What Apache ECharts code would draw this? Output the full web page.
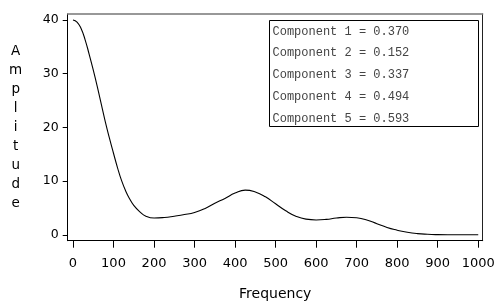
<!DOCTYPE html>
<html>
<head>
<meta charset="utf-8">
<script src="https://cdn.jsdelivr.net/npm/echarts@6/dist/echarts.min.js"></script>
<style>
  html, body { margin: 0; padding: 0; background: #fff; }
  #chart { width: 496px; height: 301px; }
</style>
</head>
<body>
<div id="chart"></div>
<script>
// 曲线数据
const frequency = [0, 10, 20, 30, 40, 50, 60, 70, 80, 90, 100, 110, 120, 130, 140, 150, 165, 180,
  200, 225, 250, 275, 300, 325, 350, 375, 400, 425, 450, 475, 500, 525, 550, 575, 600,
  625, 650, 675, 700, 725, 750, 775, 800, 825, 850, 875, 900, 925, 950, 975, 1000];
const amplitude = [40.0, 39.6, 38.4, 36.3, 33.6, 30.7, 27.6, 24.3, 21.0, 18.0, 15.2, 12.5, 10.1, 8.2, 6.7, 5.5, 4.3, 3.5,
  3.15, 3.25, 3.5, 3.8, 4.2, 4.9, 5.9, 6.8, 7.8, 8.35, 8.0, 7.1, 5.8, 4.5, 3.5, 2.95, 2.8,
  2.9, 3.15, 3.3, 3.2, 2.8, 2.1, 1.4, 0.9, 0.5, 0.25, 0.13, 0.07, 0.05, 0.05, 0.05, 0.05];

const xTicks = [0, 100, 200, 300, 400, 500, 600, 700, 800, 900, 1000];
const yTicks = [0, 10, 20, 30, 40];

const componentNames = ['Component 1', 'Component 2', 'Component 3', 'Component 4', 'Component 5'];
const componentValues = ['0.370', '0.152', '0.337', '0.494', '0.593'];

const chart = echarts.init(document.getElementById('chart'));

// 图例框里的文字
const boxTexts = componentNames.map((name, i) => ({
  type: 'text',
  left: 272.5,
  top: 25.5 + i * 21.8,
  style: {
    text: name + ' = ' + componentValues[i],
    font: '12px "Liberation Mono"',
    fill: '#444'
  },
  z: 10
}));

chart.setOption({
  animation: false,
  grid: { left: 67.7, right: 13.3, top: 14, bottom: 60.3, outerBoundsMode: 'none', containLabel: false },
  xAxis: [{
    type: 'value',
    min: -13,
    max: 1011,
    name: 'Frequency',
    nameLocation: 'middle',
    nameGap: 47,
    nameTextStyle: { fontFamily: 'DejaVu Sans', fontSize: 14, color: '#000' },
    axisLine: { show: true, onZero: false, lineStyle: { color: '#000', width: 1 } },
    axisTick: { show: true, length: 7, customValues: xTicks, lineStyle: { color: '#000' } },
    axisLabel: {
      margin: 16, customValues: xTicks,
      fontFamily: 'DejaVu Sans', fontSize: 13, color: '#000',
      formatter: v => String(v)
    },
    splitLine: { show: false }
  }, {
    type: 'value',
    position: 'top',
    min: -13,
    max: 1011,
    axisLine: { show: true, onZero: false, lineStyle: { color: '#777', width: 1.5 } },
    axisTick: { show: false },
    axisLabel: { show: false },
    splitLine: { show: false }
  }],
  yAxis: [{
    type: 'value',
    min: -1.06,
    max: 41.1,
    name: 'A\nm\np\nl\ni\nt\nu\nd\ne',
    nameLocation: 'middle',
    nameRotate: 0,
    nameGap: 52,
    nameTextStyle: {
      fontFamily: 'DejaVu Sans', fontSize: 13.5, color: '#000', lineHeight: 19,
      align: 'center', verticalAlign: 'middle', padding: [8, 0, 0, 0]
    },
    axisLine: { show: true, onZero: false, lineStyle: { color: '#000', width: 1 } },
    axisTick: { show: true, length: 5, customValues: yTicks, lineStyle: { color: '#000' } },
    axisLabel: {
      margin: 9, customValues: yTicks,
      fontFamily: 'DejaVu Sans', fontSize: 12.5, color: '#000'
    },
    splitLine: { show: false }
  }, {
    type: 'value',
    position: 'right',
    min: -1.06,
    max: 41.1,
    axisLine: { show: true, onZero: false, lineStyle: { color: '#222', width: 1 } },
    axisTick: { show: false },
    axisLabel: { show: false },
    splitLine: { show: false }
  }],
  series: [{
    type: 'line',
    data: frequency.map((f, i) => [f, amplitude[i]]),
    smooth: 0.5,
    showSymbol: false,
    lineStyle: { color: '#000', width: 1.1 }
  }],
  graphic: [{
    type: 'rect',
    shape: { x: 269.5, y: 20.5, width: 209, height: 106 },
    style: { fill: '#fff', stroke: '#000', lineWidth: 1 },
    z: 9
  }].concat(boxTexts)
});

window.addEventListener('resize', () => chart.resize());
</script>
</body>
</html>
